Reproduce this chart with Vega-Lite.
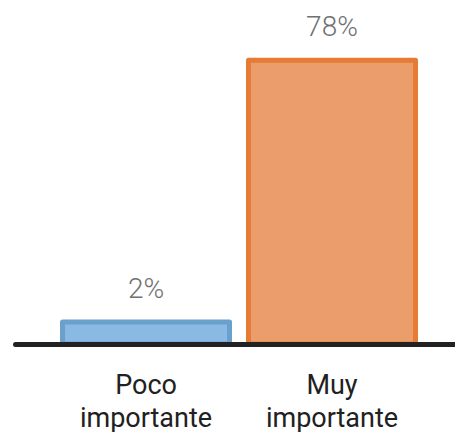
{
  "$schema": "https://vega.github.io/schema/vega-lite/v6.json",
  "width": 440,
  "height": 344,
  "padding": {"left": 15, "top": 0, "right": 0, "bottom": 88},
  "autosize": {"type": "none"},
  "background": "white",
  "config": {"view": {"stroke": null}},
  "data": {
    "values": [
      {"categoria": "Poco importante", "valor": 2, "etiqueta": "2%"},
      {"categoria": "Muy importante", "valor": 78, "etiqueta": "78%"}
    ]
  },
  "encoding": {
    "x": {
      "field": "categoria",
      "type": "nominal",
      "sort": null,
      "scale": {"paddingInner": 0.102, "paddingOuter": 0.234, "align": 0.546},
      "axis": {
        "title": null,
        "ticks": false,
        "zindex": 1,
        "domainColor": "#222222",
        "domainWidth": 5,
        "domainCap": "round",
        "labelAngle": 0,
        "labelFont": "Roboto",
        "labelFontSize": 27,
        "labelColor": "#212121",
        "labelExpr": "split(datum.label, ' ')",
        "labelLineHeight": 33,
        "labelBaseline": "alphabetic",
        "labelPadding": 49
      }
    },
    "y": {
      "field": "valor",
      "type": "quantitative",
      "scale": {"domain": [-4.4, 95.5], "nice": false, "zero": false},
      "axis": null
    }
  },
  "layer": [
    {
      "mark": {"type": "bar", "strokeWidth": 5, "strokeJoin": "round"},
      "encoding": {
        "y2": {"datum": -4.4},
        "color": {
          "field": "categoria",
          "scale": {"domain": ["Poco importante", "Muy importante"], "range": ["#8ab9e4", "#eb9e6b"]},
          "legend": null
        },
        "stroke": {
          "field": "categoria",
          "scale": {"domain": ["Poco importante", "Muy importante"], "range": ["#6aa0cc", "#e57b34"]},
          "legend": null
        }
      }
    },
    {
      "mark": {"type": "text", "font": "Roboto", "fontWeight": 300, "fontSize": 28, "color": "#707070", "dy": -24, "baseline": "alphabetic"},
      "encoding": {"text": {"field": "etiqueta"}}
    }
  ]
}
